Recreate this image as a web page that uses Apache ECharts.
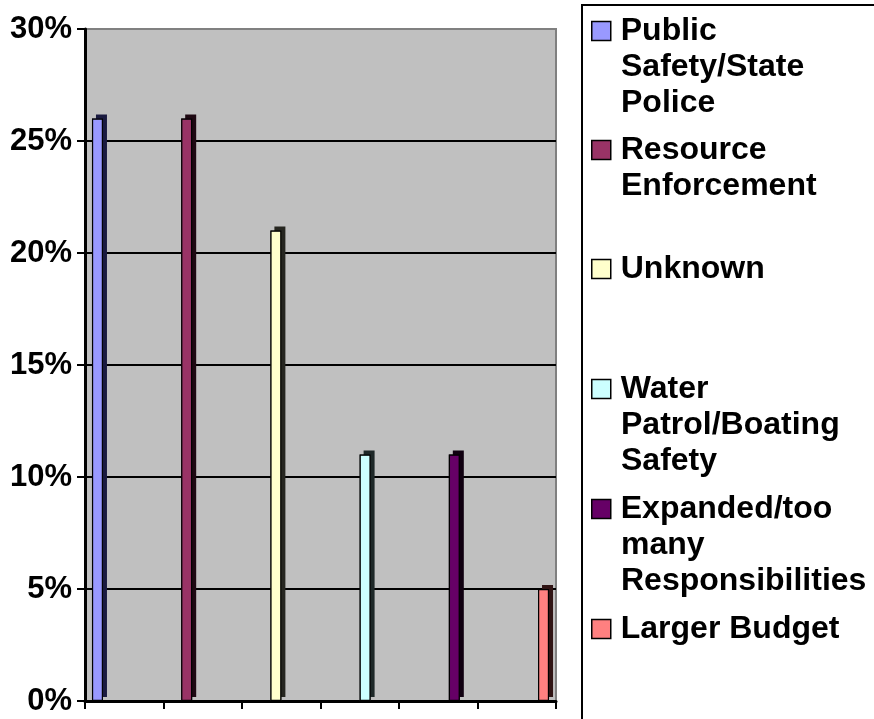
<!DOCTYPE html>
<html><head><meta charset="utf-8">
<script src="https://cdn.jsdelivr.net/npm/echarts@6/dist/echarts.min.js"></script>
<style>html,body{margin:0;padding:0;background:#fff}#c{width:874px;height:719px}</style>
</head><body><div id="c"></div>
<script>
// ---- data ----
const legendLines = [
  ['Public', 'Safety/State', 'Police'],
  ['Resource', 'Enforcement'],
  ['Unknown'],
  ['Water', 'Patrol/Boating', 'Safety'],
  ['Expanded/too', 'many', 'Responsibilities'],
  ['Larger Budget']
];
const seriesNames = legendLines.map(l => l.join(' '));
const values = [26, 26, 21, 11, 11, 5];
const colors = ['#9999FF', '#993366', '#FFFFCC', '#CCFFFF', '#660066', '#FF8080'];
const sideColors = ['#1a1a40', '#1e0812', '#262620', '#1e2828', '#100010', '#301414'];
const tickCategories = ['', '', '', '', '', ''];
const yMin = 0, yMax = 30, yInterval = 5;

// ---- layout / style ----
const FONT = '"Liberation Sans", Arial, Helvetica, sans-serif';
const legendCenters = [31, 150, 269, 389, 509, 629];
const BAR_W = 11, BAR_GAP = '711%';

const chart = echarts.init(document.getElementById('c'), null, {renderer: 'canvas'});

// depth (3D side/top) layer: shadow only, on its own hidden axis
const depthSeries = values.map((v, i) => ({
  type: 'bar',
  name: '_depth' + i,
  data: [v],
  xAxisIndex: 2,
  barWidth: BAR_W,
  barGap: BAR_GAP,
  itemStyle: {
    color: sideColors[i],
    borderWidth: 0,
    shadowColor: sideColors[i],
    shadowOffsetX: 4,
    shadowOffsetY: -4,
    shadowBlur: 0
  },
  emphasis: {disabled: true},
  silent: true,
  z: 2
}));
// front faces
const frontSeries = values.map((v, i) => ({
  type: 'bar',
  name: seriesNames[i],
  data: [v],
  xAxisIndex: 0,
  barWidth: BAR_W,
  barGap: BAR_GAP,
  itemStyle: {
    color: colors[i],
    borderColor: '#000',
    borderWidth: 1.2
  },
  emphasis: {disabled: true},
  silent: true,
  z: 3
}));

const legends = legendLines.map((lines, i) => ({
  data: [seriesNames[i]],
  left: 591,
  top: legendCenters[i] - 18,
  orient: 'vertical',
  padding: 0,
  itemWidth: 19,
  itemHeight: 19,
  icon: 'rect',
  selectedMode: false,
  formatter: () => lines[0],
  textStyle: {
    fontFamily: FONT, fontSize: 32, fontWeight: 'bold', color: '#000',
    lineHeight: 36, padding: [0, 0, 0, 5]
  },
  itemStyle: {
    borderColor: '#000', borderWidth: 1.5,
    shadowBlur: 0, shadowOffsetX: 0, shadowOffsetY: 0, shadowColor: 'rgba(0,0,0,0)'
  }
}));

const graphics = [{
  type: 'rect', z: 1,
  shape: {x: 582, y: 5, width: 400, height: 800},
  style: {fill: 'none', stroke: '#000', lineWidth: 2}
}];
legendLines.forEach((lines, i) => {
  if (lines.length > 1) {
    graphics.push({
      type: 'text', z: 10,
      left: 621, top: legendCenters[i] + 18,
      style: {
        text: lines.slice(1).join('\n'),
        font: 'bold 32px ' + FONT,
        lineHeight: 36,
        fill: '#000'
      }
    });
  }
});

chart.setOption({
  animation: false,
  backgroundColor: '#fff',
  grid: {
    left: 85, right: 318, top: 29, bottom: 18,
    show: true, backgroundColor: '#C0C0C0', borderColor: '#808080', borderWidth: 2
  },
  xAxis: [{
    type: 'category', data: [''], show: false
  }, {
    type: 'category', data: tickCategories, position: 'bottom',
    boundaryGap: true,
    axisLine: {show: true, lineStyle: {color: '#000', width: 3}},
    axisTick: {show: true, length: 8, lineStyle: {color: '#000', width: 2}},
    axisLabel: {show: false},
    splitLine: {show: false}
  }, {
    type: 'category', data: [''], show: false
  }],
  yAxis: {
    type: 'value', min: yMin, max: yMax, interval: yInterval,
    axisLine: {show: true, lineStyle: {color: '#000', width: 3}},
    axisTick: {show: true, length: 8, lineStyle: {color: '#000', width: 2}},
    axisLabel: {
      formatter: '{value}%', margin: 13,
      fontFamily: FONT, fontSize: 31, fontWeight: 'bold', color: '#000'
    },
    splitLine: {show: true, showMaxLine: false, showMinLine: false, lineStyle: {color: '#000', width: 2}}
  },
  legend: legends,
  series: depthSeries.concat(frontSeries),
  graphic: graphics
});
</script>
</body></html>
